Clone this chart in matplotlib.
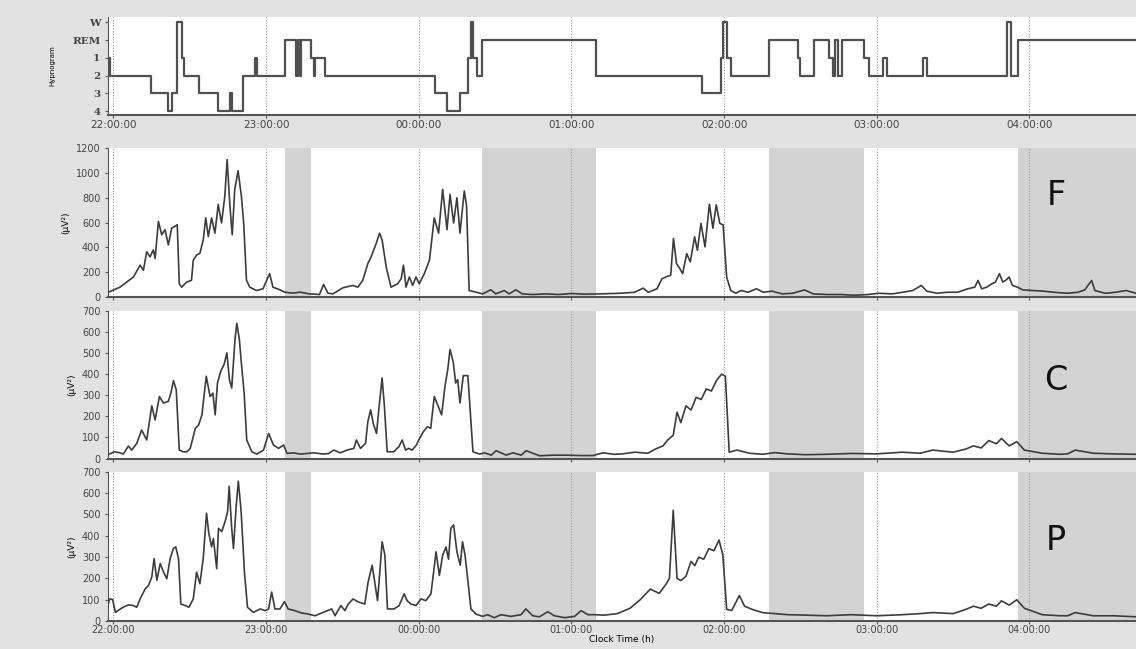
import numpy as np
import matplotlib
matplotlib.use('Agg')
import matplotlib.pyplot as plt

# 时间单位：距 22:00 的分钟数
x_start = -2.1
x_end = 401.9
hour_ticks = [0, 60, 120, 180, 240, 300, 360]
hour_labels = ['22:00:00', '23:00:00', '00:00:00', '01:00:00', '02:00:00', '03:00:00', '04:00:00']

# 睡眠分期 (4=0, 3=1, 2=2, 1=3, REM=4, W=5)
stage_names = ['4', '3', '2', '1', 'REM', 'W']
hyp_t = [-2.1, -1.3, 14.8, 21.5, 23.1, 25.0, 27.0, 27.8, 33.7, 41.1, 45.9, 46.7, 51.0, 55.7, 56.6,
         67.5, 71.8, 72.4, 73.4, 73.8, 77.7, 78.9, 79.3, 83.2, 126.4, 131.1, 136.3, 139.4, 140.6,
         141.4, 143.0, 144.9, 189.7, 231.4, 238.9, 239.6, 241.2, 242.8, 257.7, 269.1, 269.9,
         275.4, 281.3, 282.9, 283.7, 284.9, 286.5, 295.1, 297.1, 302.6, 304.1, 318.3, 319.9,
         351.3, 352.8, 355.6, 401.9]
hyp_s = [3, 2, 1, 0, 1, 5, 3, 2, 1, 0, 1, 0, 2, 3, 2,
         4, 2, 4, 2, 4, 3, 2, 3, 2, 1, 0, 1, 3, 5,
         3, 2, 4, 2, 1, 3, 5, 3, 2, 4, 3, 2,
         4, 3, 2, 4, 2, 4, 3, 2, 3, 2, 3, 2,
         5, 2, 4, 4]

# REM 阴影区间
rem_spans = [(67.5, 77.7), (144.9, 189.7), (257.7, 295.1), (355.6, 401.9)]

# F 导联
f_t = [-2.5, 2.6, 7.9, 10.5, 11.8, 13.1, 14.4, 15.7, 16.4, 17.7, 19.0, 20.3, 21.6, 22.9, 24.2, 25.1,
       25.9, 26.8, 28.8, 30.7, 31.4, 32.7, 34.0, 35.3, 36.3, 37.3, 38.6, 39.9, 41.2, 42.5, 43.8,
       44.7, 45.8, 46.7, 47.7, 49.0, 50.3, 51.2, 52.3, 53.6, 56.2, 58.8, 61.4, 62.7, 65.4, 67.3,
       70.6, 73.2, 77.1, 81.0, 82.6, 84.3, 86.3, 90.2, 94.1, 96.1, 98.0, 100.0, 101.3, 103.3,
       104.6, 105.6, 107.2, 109.1, 111.7, 113.1, 114.0, 115.0, 116.3, 117.6, 118.9, 120.2, 122.2,
       124.2, 126.1, 127.8, 129.4, 131.1, 132.3, 133.7, 135.0, 136.2, 137.9, 138.8, 139.8, 142.5,
       145.1, 148.3, 150.3, 153.6, 155.5, 158.1, 160.7, 164.7, 170.0, 175.0, 180.0, 185.0, 191.3,
       199.4, 204.8, 208.2, 210.2, 213.6, 215.6, 217.6, 219.0, 220.1, 221.3, 222.6, 223.7, 225.3,
       226.7, 228.4, 229.5, 230.9, 232.5, 234.2, 235.6, 236.9, 238.3, 239.6, 241.0, 242.6, 244.6,
       246.7, 249.4, 252.7, 255.4, 258.8, 262.9, 266.9, 271.6, 275.0, 280.4, 285.8, 291.2, 296.6,
       300.7, 306.0, 310.1, 314.1, 317.5, 319.6, 323.6, 327.7, 331.7, 335.8, 338.5, 339.8, 341.2,
       343.2, 345.2, 346.6, 348.2, 349.5, 350.6, 352.0, 353.3, 355.3, 357.4, 361.4, 365.5, 369.5,
       374.9, 379.0, 381.7, 384.4, 385.7, 389.8, 393.8, 397.9, 401.9]
f_v = [35, 81, 163, 258, 217, 366, 325, 380, 312, 610, 502, 543, 420, 556, 570, 583,
       108, 81, 122, 136, 298, 339, 353, 461, 638, 488, 638, 515, 746, 597, 814,
       1107, 733, 502, 868, 1017, 814, 597, 136, 81, 54, 68, 190, 81, 60, 41,
       33, 41, 27, 22, 103, 33, 27, 76, 95, 81, 136, 271, 325, 434,
       515, 461, 244, 81, 108, 149, 258, 81, 163, 95, 163, 108, 190,
       298, 638, 515, 868, 543, 827, 597, 800, 515, 855, 733, 54, 41,
       27, 60, 27, 54, 27, 60, 27, 22, 27, 22, 30, 25, 27,
       32, 40, 73, 40, 68, 149, 167, 176, 473, 270, 230, 189, 351,
       284, 486, 378, 594, 405, 748, 554, 743, 594, 581, 162, 54, 32,
       54, 40, 68, 40, 49, 27, 32, 59, 27, 22, 22, 16, 22,
       32, 27, 40, 54, 95, 49, 32, 40, 40, 68, 81, 135, 68,
       81, 108, 122, 189, 122, 135, 162, 95, 81, 59, 54, 49, 40,
       32, 40, 59, 135, 54, 32, 40, 54, 32]

# C 导联
c_t = [-2.5, 0.4, 2.6, 3.9, 5.9, 7.2, 9.2, 11.1, 13.1, 15.1, 16.4, 18.1, 19.7, 21.6, 22.6, 23.6,
       24.7, 25.9, 27.4, 28.9, 30.2, 32.2, 33.5, 34.8, 36.5, 38.0, 39.1, 40.0, 40.9, 42.2, 43.5,
       44.6, 45.6, 46.5, 47.8, 48.5, 49.5, 50.4, 51.4, 52.4, 54.4, 56.4, 59.0, 61.0, 62.9, 64.9,
       66.9, 68.2, 70.8, 73.4, 76.1, 78.7, 82.6, 84.6, 86.6, 89.2, 91.8, 94.5, 95.5, 97.1, 99.1,
       100.0, 101.1, 102.1, 103.4, 104.3, 105.6, 106.5, 107.6, 110.2, 112.2, 113.5, 114.8, 116.1,
       117.4, 119.1, 120.0, 121.8, 123.4, 124.7, 126.1, 127.4, 129.0, 130.3, 131.4, 132.3, 133.6,
       134.5, 135.3, 136.2, 137.5, 139.3, 141.3, 143.9, 145.9, 148.5, 150.4, 154.4, 157.0, 160.3,
       162.2, 167.5, 172.7, 177.9, 184.5, 188.4, 192.4, 196.7, 200.0, 205.0, 210.0, 213.0, 216.0,
       218.0, 220.0, 221.5, 223.0, 225.0, 227.0, 229.0, 231.0, 233.0, 235.0, 237.0, 239.0, 240.5,
       242.0, 245.0, 250.0, 255.0, 260.0, 265.0, 272.0, 280.0, 290.0, 300.0, 310.0, 317.0, 322.0,
       330.0, 335.0, 338.0, 341.0, 344.0, 347.0, 349.0, 352.0, 355.0, 358.0, 365.0, 372.0, 375.0,
       378.0, 385.0, 393.0, 401.9]
c_v = [16, 32, 27, 21, 59, 40, 72, 135, 88, 250, 183, 294, 263, 271, 310, 369,
       326, 40, 32, 32, 48, 143, 159, 207, 390, 294, 310, 207, 358, 414, 446,
       501, 374, 334, 565, 641, 565, 438, 310, 88, 32, 21, 40, 119, 64, 48,
       64, 24, 27, 21, 24, 27, 21, 24, 40, 27, 40, 48, 88, 48, 72,
       175, 231, 167, 119, 231, 382, 247, 32, 32, 56, 88, 40, 48,
       40, 64, 88, 127, 151, 143, 294, 255, 207, 342, 422, 517, 454,
       358, 374, 263, 393, 393, 32, 21, 27, 16, 37, 16, 27, 16,
       37, 13, 16, 16, 14, 14, 27, 20, 22, 30, 25, 45, 60,
       90, 110, 220, 170, 250, 230, 290, 280, 330, 320, 370, 400, 390,
       30, 40, 25, 20, 28, 22, 18, 20, 24, 22, 30, 25, 40,
       30, 45, 60, 50, 85, 70, 95, 60, 80, 40, 25, 20, 22,
       40, 25, 22, 20]

# P 导联
p_t = [-2.5, -1.5, -0.3, 0.8, 3.8, 5.9, 7.8, 9.2, 10.5, 12.5, 13.8, 15.1, 16.0, 17.1, 18.4,
       19.7, 21.0, 22.3, 23.6, 24.5, 25.6, 26.5, 28.2, 29.7, 31.4, 32.7, 34.0, 35.3, 36.6, 37.5,
       38.6, 39.3, 40.6, 41.3, 42.6, 43.9, 44.9, 45.5, 46.5, 47.2, 48.2, 49.1, 50.2, 51.5, 52.7,
       55.0, 57.7, 59.6, 61.0, 62.2, 63.5, 65.5, 67.2, 68.7, 71.3, 73.9, 76.6, 79.2, 82.5, 85.8,
       87.1, 89.4, 91.0, 92.3, 94.2, 96.2, 98.8, 100.1, 101.7, 102.7, 103.8, 104.7, 105.6, 106.7,
       107.7, 110.3, 112.3, 114.3, 115.4, 116.9, 118.9, 120.9, 122.8, 124.8, 126.8, 128.1, 129.4,
       130.7, 131.7, 132.6, 133.7, 135.0, 136.3, 137.2, 138.2, 140.5, 142.5, 145.1, 147.0, 149.7,
       152.3, 156.2, 160.2, 162.1, 164.8, 167.4, 170.7, 173.3, 177.3, 181.2, 183.8, 186.5, 189.1,
       193.0, 198.0, 203.0, 207.0, 211.0, 214.5, 217.0, 218.5, 220.0, 221.5, 223.0, 225.0, 227.0,
       228.5, 230.0, 232.0, 234.0, 236.0, 238.0, 239.5, 241.0, 243.0, 246.0, 248.0, 251.0, 255.0,
       260.0, 265.0, 272.0, 280.0, 290.0, 300.0, 310.0, 317.0, 322.0, 330.0, 335.0, 338.0, 341.0,
       344.0, 347.0, 349.0, 352.0, 355.0, 358.0, 365.0, 372.0, 375.0, 378.0, 385.0, 393.0, 401.9]
p_v = [57, 104, 101, 41, 65, 76, 73, 65, 104, 151, 167, 207, 293, 191, 270,
       230, 199, 293, 341, 348, 293, 80, 73, 65, 104, 230, 175, 293, 506, 412,
       348, 388, 246, 435, 420, 467, 514, 632, 435, 341, 530, 656, 514, 230, 65,
       41, 57, 49, 57, 136, 57, 57, 91, 57, 49, 38, 33, 25, 41, 57,
       25, 73, 49, 80, 104, 90, 80, 183, 262, 183, 96, 230, 372, 309,
       57, 57, 73, 128, 96, 80, 73, 104, 96, 128, 325, 214, 309,
       348, 290, 435, 451, 325, 262, 372, 309, 57, 33, 22, 30, 16,
       30, 22, 30, 57, 25, 20, 44, 25, 16, 22, 49, 30, 30,
       28, 35, 60, 100, 150, 130, 170, 200, 520, 200, 190, 210, 280,
       260, 300, 290, 340, 330, 380, 310, 55, 50, 120, 70, 55, 40,
       35, 30, 28, 25, 30, 25, 30, 35, 40, 35, 55, 70, 60,
       80, 70, 95, 75, 100, 60, 30, 25, 25, 40, 25, 25, 20]

bg = '#e2e2e2'
line_c = '#3c3c3c'
plt.rcParams['font.family'] = ['DejaVu Sans']

fig = plt.figure(figsize=(11.36, 6.49), dpi=100)
fig.patch.set_facecolor(bg)

def style_axis(ax):
    ax.set_facecolor('white')
    ax.set_xlim(x_start, x_end)
    ax.spines['top'].set_visible(False)
    ax.spines['right'].set_visible(False)
    ax.spines['left'].set_color('#555555')
    ax.spines['bottom'].set_color('#555555')
    ax.spines['bottom'].set_linewidth(1.5)
    ax.tick_params(axis='both', colors='#555555', labelcolor='#444444', length=2, labelsize=7)
    ax.tick_params(axis='x', pad=2)
    ax.set_xticks(hour_ticks)
    for t in hour_ticks:
        ax.axvline(t, color='#999999', linestyle=(0, (1, 1.5)), linewidth=0.8, zorder=1)

# 睡眠图
ax0 = fig.add_axes([0.0951, 0.823, 0.905, 0.151])
style_axis(ax0)
ax0.step(hyp_t, hyp_s, where='post', color='#505050', linewidth=1.6, zorder=3)
ax0.set_ylim(-0.2, 5.3)
ax0.set_yticks(range(6))
ax0.set_yticklabels(stage_names, family='DejaVu Serif', fontsize=7.5, fontweight='bold')
ax0.set_xticklabels(hour_labels, fontsize=7.5)
ax0.set_ylabel('Hypnogram', fontsize=5, labelpad=12)

# 三个导联
panels = [
    ('F', f_t, f_v, 1200, 200, [0.0951, 0.542, 0.905, 0.230], 0.68),
    ('C', c_t, c_v, 700, 100, [0.0951, 0.2935, 0.905, 0.2275], 0.53),
    ('P', p_t, p_v, 700, 100, [0.0951, 0.043, 0.905, 0.230], 0.54),
]
for name, t, v, ymax, step, pos, ty in panels:
    ax = fig.add_axes(pos)
    style_axis(ax)
    for a, b in rem_spans:
        ax.axvspan(a, b, color='#d3d3d3', linewidth=0, zorder=0)
    ax.plot(t, v, color=line_c, linewidth=1.2, zorder=3)
    ax.set_ylim(0, ymax)
    ax.set_yticks(np.arange(0, ymax + 1, step))
    ax.set_ylabel('(µV²)', fontsize=6.5, labelpad=4)
    ax.text(0.922, ty, name, transform=ax.transAxes, fontsize=24, ha='center', va='center', color='#111111')
    if name == 'P':
        ax.tick_params(axis='x', pad=1)
        ax.set_xticklabels(hour_labels, fontsize=7)
        ax.set_xlabel('Clock Time (h)', fontsize=6.5, labelpad=0)
    else:
        ax.set_xticklabels([])

plt.savefig('out.png', dpi=100, facecolor=bg)
